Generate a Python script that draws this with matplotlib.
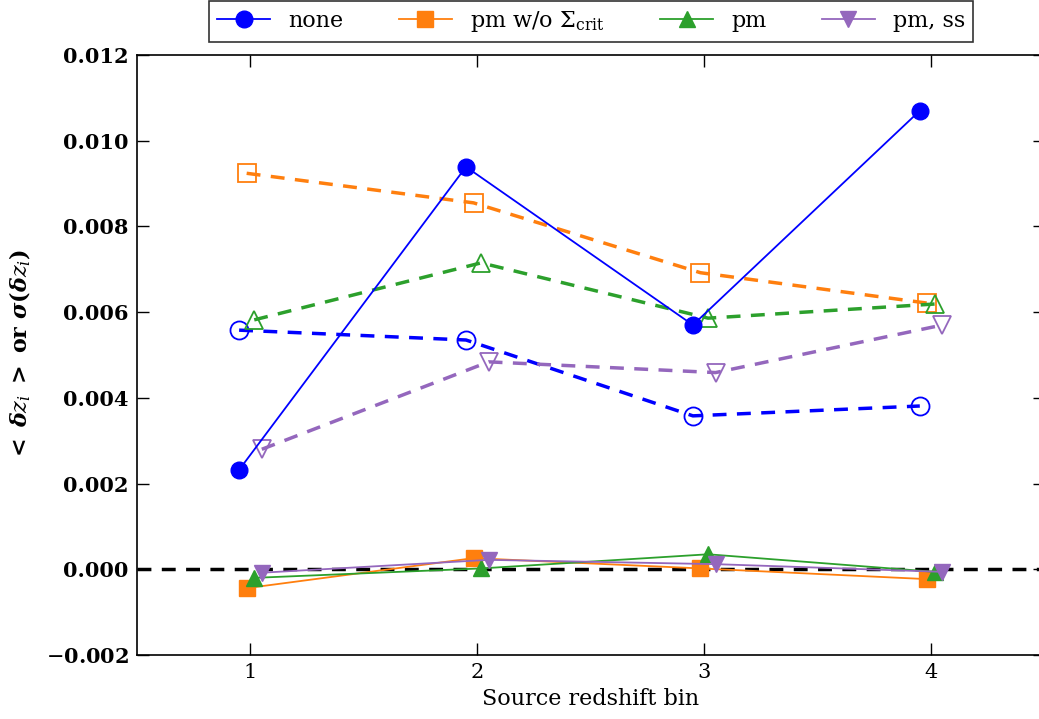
import numpy as np
import matplotlib
matplotlib.use('Agg')
import matplotlib.pyplot as plt

# source redshift bins
bins = np.array([1, 2, 3, 4])

labels = ['none', r'pm w/o $\Sigma_{\rm crit}$', 'pm', 'pm, ss']
colors = ['#0000ff', '#ff7f0e', '#2ca02c', '#9467bd']
markers = ['o', 's', '^', 'v']
offsets = [-0.05, -0.0167, 0.0167, 0.05]

# mean bias <dz_i>
mean_none = [0.00232, 0.00939, 0.00570, 0.01070]
mean_pm_nocrit = [-0.00044, 0.00026, 0.00002, -0.00023]
mean_pm = [-0.00020, 0.00002, 0.00035, -0.00006]
mean_pm_ss = [-0.00008, 0.00022, 0.00012, -0.00006]

# scatter sigma(dz_i)
sig_none = [0.00558, 0.00535, 0.00358, 0.00381]
sig_pm_nocrit = [0.00924, 0.00855, 0.00692, 0.00621]
sig_pm = [0.00582, 0.00715, 0.00586, 0.00619]
sig_pm_ss = [0.00280, 0.00484, 0.00459, 0.00570]

means = [mean_none, mean_pm_nocrit, mean_pm, mean_pm_ss]
sigmas = [sig_none, sig_pm_nocrit, sig_pm, sig_pm_ss]

plt.rcParams['font.family'] = 'DejaVu Serif'
plt.rcParams['mathtext.fontset'] = 'dejavuserif'

fig = plt.figure(figsize=(10.39, 7.19), dpi=100)
ax = fig.add_axes([137 / 1039, 1 - 655 / 719, 907.6 / 1039, 600 / 719])

ax.axhline(0, color='black', linestyle='--', linewidth=2.5, dashes=(4, 3), zorder=1)

handles = []
for lab, col, mk, off, m, s in zip(labels, colors, markers, offsets, means, sigmas):
    x = bins + off
    ax.plot(x, s, linestyle='--', dashes=(4, 3), linewidth=2.5, color=col,
            marker=mk, markersize=13, markerfacecolor='none',
            markeredgecolor=col, markeredgewidth=1.3, zorder=2)
    h, = ax.plot(x, m, linestyle='-', linewidth=1.3, color=col,
                 marker=mk, markersize=12, markeredgecolor=col,
                 markerfacecolor=col, label=lab, zorder=3)
    handles.append(h)

ax.set_xlim(0.5, 4.5)
ax.set_ylim(-0.002, 0.012)
ax.set_xticks(bins)
yt = np.arange(-0.002, 0.0121, 0.002)
ax.set_yticks(yt)
ax.set_yticklabels(['%.3f' % v if v > -1e-9 else r'$-$%.3f' % abs(v) for v in yt],
                   fontweight='bold')
ax.tick_params(direction='in', top=True, right=True, length=8.5, width=1,
               labelsize=15, pad=6)
for sp in ax.spines.values():
    sp.set_linewidth(1.2)

ax.set_xlabel('Source redshift bin', fontsize=16, labelpad=4)
ax.set_ylabel(r'$\mathbf{<}\ \boldsymbol{\delta z_i}\ \mathbf{>}$ or $\boldsymbol{\sigma(\delta z_i)}$',
              fontsize=16, fontweight='bold', labelpad=9)

leg = fig.legend(handles=handles, loc='upper center', ncol=4,
                 bbox_to_anchor=(591 / 1039, 0.998), fontsize=16,
                 frameon=True, fancybox=False, edgecolor='black',
                 borderaxespad=0, columnspacing=2.5, handlelength=2.4,
                 handletextpad=0.8, borderpad=0.35)
leg.get_frame().set_linewidth(1.2)

fig.savefig('out.png', dpi=100)
